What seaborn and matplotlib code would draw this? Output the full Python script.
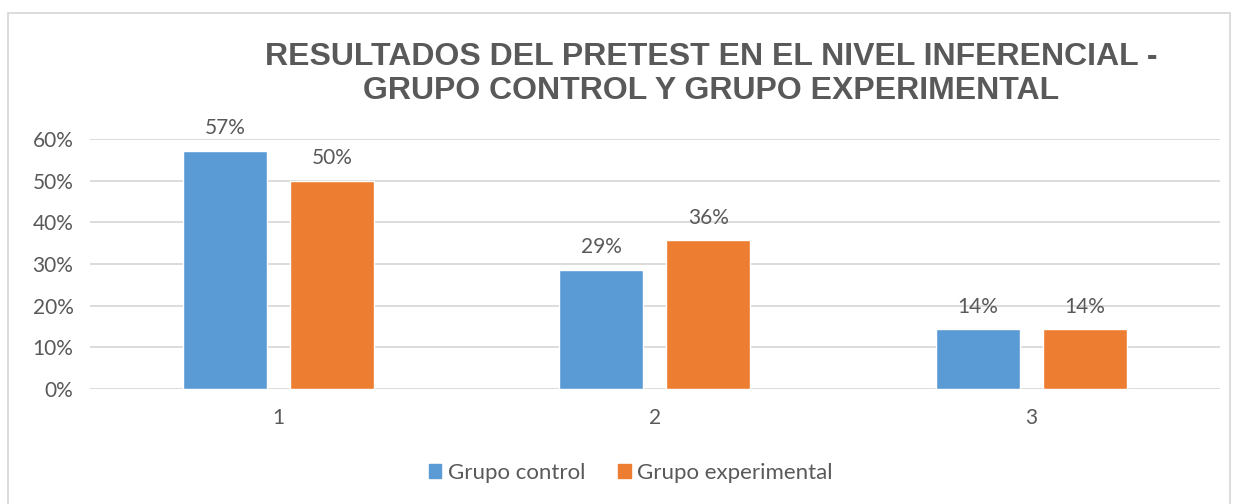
import pandas as pd
import matplotlib.pyplot as plt
import seaborn as sns
from matplotlib.patches import Rectangle

categories = ['1', '2', '3']
control = [0.5714, 0.2857, 0.1429]
experimental = [0.50, 0.3571, 0.1429]
series = ['Grupo control', 'Grupo experimental']
colors = {'Grupo control': '#5B9BD5', 'Grupo experimental': '#ED7D31'}

df = pd.DataFrame({
    'cat': categories * 2,
    'val': control + experimental,
    'grupo': [series[0]] * 3 + [series[1]] * 3,
})

sns.set_style('white')
plt.rcParams['font.family'] = ['Lato', 'DejaVu Sans']
txt = '#595959'

fig = plt.figure(figsize=(12.37, 5.04), dpi=100)
ax = fig.add_axes([0.0728, 0.2282, 0.9132, 0.496])

sns.barplot(data=df, x='cat', y='val', hue='grupo', palette=colors,
            width=0.568, gap=0.215, ax=ax, legend=False, saturation=1)

ax.set_ylim(0, 0.6)
ax.set_yticks([i / 10 for i in range(7)])
ax.set_yticklabels([f'{i * 10}%' for i in range(7)])
ax.yaxis.grid(True, color='#d9d9d9', lw=1.3)
ax.set_axisbelow(True)
for s in ax.spines.values():
    s.set_visible(False)
ax.tick_params(axis='both', length=0, labelsize=15, colors=txt)
ax.tick_params(axis='x', pad=14)
ax.tick_params(axis='y', pad=12)
ax.set_xlabel('')
ax.set_ylabel('')

for c in ax.containers:
    ax.bar_label(c, labels=[f'{v * 100:.0f}%' for v in c.datavalues],
                 padding=9, fontsize=15, color=txt, clip_on=False)

fig.text(0.575, 0.853, 'RESULTADOS DEL PRETEST EN EL NIVEL INFERENCIAL -\nGRUPO CONTROL Y GRUPO EXPERIMENTAL',
         ha='center', va='center', fontsize=23, fontweight='bold', color=txt,
         family='Liberation Sans', linespacing=1.2)

handles = [Rectangle((0, 0), 1, 1, color=colors[s]) for s in series]
fig.legend(handles, series, loc='center', bbox_to_anchor=(0.51, 0.062), ncol=2,
           frameon=False, fontsize=16, labelcolor=txt, handlelength=0.55,
           handleheight=0.55, handletextpad=0.3, columnspacing=1.5)

fig.add_artist(Rectangle((0.0065, -0.05), 0.988, 1.025, transform=fig.transFigure,
                         fill=False, edgecolor='#d9d9d9', lw=1.3))

fig.savefig('out.png', dpi=100)
